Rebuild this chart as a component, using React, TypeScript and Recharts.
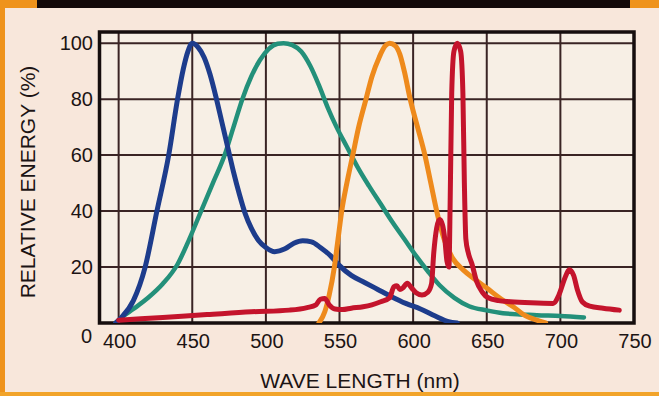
import {
  LineChart,
  Line,
  XAxis,
  YAxis,
  CartesianGrid,
  ReferenceArea,
} from "recharts";

// wavelength (nm) / relative energy (%) pairs
const blueCurve: [number, number][] = [
  [398, 0], [402, 2], [410, 8], [418, 20], [426, 40], [434, 60], [440, 80],
  [444, 91], [447, 97], [450, 100], [454, 98.5], [458, 95], [462, 89],
  [466, 81], [470, 72], [474, 63], [478, 54], [482, 46], [486, 39], [490, 34],
  [495, 29.5], [500, 27], [506, 25.5], [513, 26.5], [519, 28.5], [525, 29.4],
  [531, 29], [537, 27], [544, 24], [550, 20.5], [558, 17], [567, 14.5],
  [576, 12], [585, 9.5], [595, 7], [605, 5], [615, 2.5], [624, 0.5], [630, 0],
];

const greenCurve: [number, number][] = [
  [398, 0], [402, 2], [410, 5], [420, 9], [430, 14], [440, 21], [448, 30],
  [456, 40], [464, 50], [472, 60], [478, 70], [484, 80], [490, 88], [496, 94],
  [502, 98], [508, 99.8], [512, 100], [518, 99.3], [524, 97], [530, 92],
  [536, 85], [542, 77], [548, 70], [555, 63], [562, 56], [570, 49],
  [578, 42.5], [586, 36], [594, 30], [602, 24], [610, 18.5], [618, 13.5],
  [628, 9], [638, 6], [650, 4.5], [661, 3.5], [684, 2.8], [700, 2.5], [716, 2],
];

const orangeCurve: [number, number][] = [
  [536, 0], [540, 4], [543, 10], [546.5, 20], [549, 30], [551.5, 40], [555, 50],
  [559, 60], [563, 70], [568, 80], [572, 88], [577, 95], [581, 99], [584, 100],
  [588, 99], [591, 96], [594, 90], [598, 80], [603, 70], [608, 60], [612, 50],
  [616, 40], [621, 30], [627, 23], [634, 19], [641, 16], [650, 12.5],
  [660, 8.5], [668, 5.8], [675, 3], [684, 1], [690, 0],
];

const redCurve: [number, number][] = [
  [400, 1], [430, 2], [460, 3], [490, 4], [516, 4.6], [528, 5.5], [534, 6.5],
  [537, 8.5], [540, 8.8], [543, 6.5], [547, 5], [552, 4.8], [558, 5.3],
  [566, 5.8], [572, 6.5], [578, 7.6], [584, 9], [587, 13], [589, 13.3],
  [591, 12], [593, 12.5], [596, 14.2], [599, 12.5], [602, 10.8], [606, 10],
  [610, 11], [612.5, 14], [614, 25], [616, 34], [618, 37], [620, 35],
  [621.5, 30], [623, 22], [624.3, 20], [625.2, 45], [626.2, 82], [627.7, 97],
  [630, 100], [632.3, 97], [633.8, 82], [634.8, 50], [635.8, 30], [637.5, 25],
  [640, 21], [643, 15], [647, 11], [651, 9], [658, 8], [666, 7.6], [680, 7.2],
  [695, 7], [699, 10], [703, 16], [706, 19], [709, 17], [711.5, 12],
  [715, 7.5], [720, 6], [729, 5.3], [740, 4.6],
];

const wavelengthTicks = [400, 450, 500, 550, 600, 650, 700, 750];
const energyTicks = [0, 20, 40, 60, 80, 100];

const toRows = (pts: [number, number][]) => pts.map(([nm, v]) => ({ nm, v }));

const FONT = '"Liberation Sans", Arial, Helvetica, sans-serif';
const INK = "#1c1414";

function XTick({ x, y, payload }: any) {
  return (
    <text
      x={x + 1}
      y={y + 18}
      textAnchor="middle"
      dominantBaseline="central"
      fontFamily={FONT}
      fontSize={20}
      fill={INK}
    >
      {payload.value}
    </text>
  );
}

function YTick({ x, y, payload }: any) {
  const zero = payload.value === 0;
  return (
    <text
      x={x - (zero ? 7.5 : 6.5)}
      y={y + (zero ? 13 : 0)}
      textAnchor="end"
      dominantBaseline="central"
      fontFamily={FONT}
      fontSize={20}
      fill={INK}
    >
      {payload.value}
    </text>
  );
}

export default function App() {
  const lineProps = {
    dataKey: "v",
    type: "monotone" as const,
    dot: false,
    activeDot: false,
    isAnimationActive: false,
    strokeLinecap: "round" as const,
    strokeLinejoin: "round" as const,
  };

  return (
    <div
      style={{
        position: "fixed",
        left: 0,
        top: 0,
        width: 659,
        height: 396,
        background: "#f8e7db",
        overflow: "hidden",
      }}
    >
      {/* scan frame */}
      <div style={{ position: "absolute", left: 0, top: 0, width: 5, height: 396, background: "#ef931c" }} />
      <div style={{ position: "absolute", left: 0, top: 0, width: 37, height: 8, background: "#ef931c" }} />
      <div style={{ position: "absolute", left: 37, top: 0, width: 593, height: 8, background: "#140a0a" }} />
      <div style={{ position: "absolute", left: 630, top: 0, width: 29, height: 8, background: "#ef931c" }} />
      <div style={{ position: "absolute", left: 0, top: 392, width: 659, height: 4, background: "#f2a42a" }} />

      <LineChart
        width={659}
        height={396}
        margin={{ top: 32, right: 25, bottom: 43, left: 39.5 }}
        style={{ position: "absolute", left: 0, top: 0 }}
      >
        <CartesianGrid
          stroke="#3a2424"
          strokeWidth={2}
          fill="#f7efe5"
          fillOpacity={1}
        />
        <XAxis
          dataKey="nm"
          type="number"
          domain={[387, 750]}
          ticks={wavelengthTicks}
          allowDataOverflow
          axisLine={false}
          tickLine={false}
          tickSize={0}
          tickMargin={0}
          height={30}
          tick={<XTick />}
        />
        <YAxis
          type="number"
          domain={[0, 104]}
          ticks={energyTicks}
          allowDataOverflow
          axisLine={false}
          tickLine={false}
          tickSize={0}
          tickMargin={0}
          width={60}
          tick={<YTick />}
        />
        <ReferenceArea
          x1={387}
          x2={750}
          y1={0}
          y2={104}
          fill="none"
          stroke="#160e0e"
          strokeWidth={3.5}
        />
        <Line {...lineProps} data={toRows(greenCurve)} stroke="#23907a" strokeWidth={4.5} />
        <Line {...lineProps} data={toRows(blueCurve)} stroke="#1d3c8c" strokeWidth={5} />
        <Line {...lineProps} data={toRows(orangeCurve)} stroke="#ee8a1c" strokeWidth={5} />
        <Line {...lineProps} data={toRows(redCurve)} stroke="#c4142c" strokeWidth={5} />
      </LineChart>

      <div
        style={{
          position: "absolute",
          left: 160,
          width: 400,
          top: 369,
          textAlign: "center",
          fontFamily: FONT,
          fontSize: 21,
          lineHeight: "24px",
          color: INK,
        }}
      >
        WAVE LENGTH (nm)
      </div>
      <div
        style={{
          position: "absolute",
          left: 27.5 - 150,
          top: 182 - 12,
          width: 300,
          textAlign: "center",
          transform: "rotate(-90deg)",
          fontFamily: FONT,
          fontSize: 21,
          lineHeight: "24px",
          color: INK,
        }}
      >
        RELATIVE ENERGY (%)
      </div>
    </div>
  );
}
